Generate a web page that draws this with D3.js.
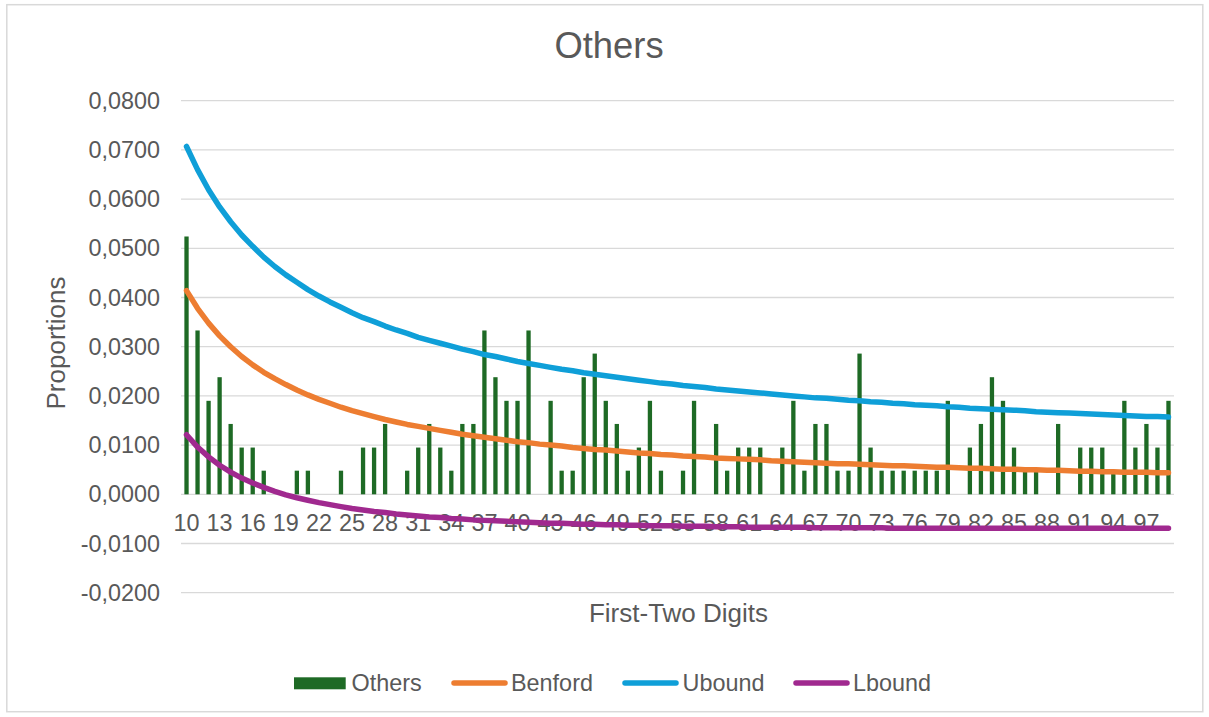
<!DOCTYPE html>
<html>
<head>
<meta charset="utf-8">
<script src="https://cdn.jsdelivr.net/npm/d3@7"></script>
<style>
  html, body { margin: 0; padding: 0; background: #fff; }
  svg { display: block; }
  text { font-family: "Liberation Sans", Arial, Helvetica, sans-serif; fill: #595959; }
</style>
</head>
<body>
<div id="chart"></div>
<script>
// First-two-digit categories
const digits = d3.range(10, 100);

// Observed proportions for the "Others" group (n = 210)
const others = [
  0.0524, 0.0333, 0.0190, 0.0238, 0.0143, 0.0095, 0.0095, 0.0048, 0.0000, 0.0000,
  0.0048, 0.0048, 0.0000, 0.0000, 0.0048, 0.0000, 0.0095, 0.0095, 0.0143, 0.0000,
  0.0048, 0.0095, 0.0143, 0.0095, 0.0048, 0.0143, 0.0143, 0.0333, 0.0238, 0.0190,
  0.0190, 0.0333, 0.0000, 0.0190, 0.0048, 0.0048, 0.0238, 0.0286, 0.0190, 0.0143,
  0.0048, 0.0095, 0.0190, 0.0048, 0.0000, 0.0048, 0.0190, 0.0000, 0.0143, 0.0048,
  0.0095, 0.0095, 0.0095, 0.0000, 0.0095, 0.0190, 0.0048, 0.0143, 0.0143, 0.0048,
  0.0048, 0.0286, 0.0095, 0.0048, 0.0048, 0.0048, 0.0048, 0.0048, 0.0048, 0.0190,
  0.0000, 0.0095, 0.0143, 0.0238, 0.0190, 0.0095, 0.0048, 0.0048, 0.0000, 0.0143,
  0.0000, 0.0095, 0.0095, 0.0095, 0.0048, 0.0190, 0.0095, 0.0143, 0.0095, 0.0190
];

// Expected Benford proportions
const benford = [
  0.0414, 0.0378, 0.0348, 0.0322, 0.0300, 0.0280, 0.0263, 0.0248, 0.0235, 0.0223,
  0.0212, 0.0202, 0.0193, 0.0185, 0.0177, 0.0170, 0.0164, 0.0158, 0.0152, 0.0147,
  0.0142, 0.0138, 0.0134, 0.0130, 0.0126, 0.0122, 0.0119, 0.0116, 0.0113, 0.0110,
  0.0107, 0.0105, 0.0102, 0.0100, 0.0098, 0.0095, 0.0093, 0.0091, 0.0090, 0.0088,
  0.0086, 0.0084, 0.0083, 0.0081, 0.0080, 0.0078, 0.0077, 0.0076, 0.0074, 0.0073,
  0.0072, 0.0071, 0.0070, 0.0068, 0.0067, 0.0066, 0.0065, 0.0064, 0.0063, 0.0062,
  0.0062, 0.0061, 0.0060, 0.0059, 0.0058, 0.0058, 0.0057, 0.0056, 0.0055, 0.0055,
  0.0054, 0.0053, 0.0053, 0.0052, 0.0051, 0.0051, 0.0050, 0.0050, 0.0049, 0.0049,
  0.0048, 0.0047, 0.0047, 0.0046, 0.0046, 0.0045, 0.0045, 0.0045, 0.0044, 0.0044
];

// Upper confidence bound
const ubound = [
  0.0707, 0.0660, 0.0619, 0.0584, 0.0554, 0.0527, 0.0504, 0.0482, 0.0463, 0.0446,
  0.0431, 0.0416, 0.0403, 0.0391, 0.0380, 0.0369, 0.0359, 0.0351, 0.0342, 0.0334,
  0.0327, 0.0319, 0.0313, 0.0307, 0.0301, 0.0295, 0.0290, 0.0284, 0.0280, 0.0275,
  0.0270, 0.0266, 0.0262, 0.0258, 0.0254, 0.0251, 0.0247, 0.0244, 0.0241, 0.0238,
  0.0235, 0.0232, 0.0229, 0.0226, 0.0224, 0.0221, 0.0219, 0.0217, 0.0214, 0.0212,
  0.0210, 0.0208, 0.0206, 0.0204, 0.0202, 0.0200, 0.0198, 0.0196, 0.0195, 0.0193,
  0.0191, 0.0190, 0.0188, 0.0187, 0.0185, 0.0184, 0.0182, 0.0181, 0.0180, 0.0178,
  0.0177, 0.0175, 0.0174, 0.0173, 0.0172, 0.0171, 0.0170, 0.0168, 0.0167, 0.0166,
  0.0165, 0.0164, 0.0163, 0.0162, 0.0161, 0.0160, 0.0159, 0.0158, 0.0158, 0.0157
];

// Lower confidence bound
const lbound = [
  0.0121, 0.0096, 0.0076, 0.0059, 0.0045, 0.0033, 0.0023, 0.0014, 0.0006, -0.0001,
  -0.0007, -0.0012, -0.0017, -0.0021, -0.0025, -0.0029, -0.0032, -0.0035, -0.0037, -0.0040,
  -0.0042, -0.0044, -0.0046, -0.0047, -0.0049, -0.0050, -0.0052, -0.0053, -0.0054, -0.0055,
  -0.0056, -0.0057, -0.0058, -0.0059, -0.0059, -0.0060, -0.0061, -0.0061, -0.0062, -0.0062,
  -0.0063, -0.0063, -0.0064, -0.0064, -0.0064, -0.0065, -0.0065, -0.0065, -0.0066, -0.0066,
  -0.0066, -0.0067, -0.0067, -0.0067, -0.0067, -0.0067, -0.0067, -0.0068, -0.0068, -0.0068,
  -0.0068, -0.0068, -0.0068, -0.0068, -0.0069, -0.0069, -0.0069, -0.0069, -0.0069, -0.0069,
  -0.0069, -0.0069, -0.0069, -0.0069, -0.0069, -0.0069, -0.0069, -0.0069, -0.0069, -0.0069,
  -0.0069, -0.0069, -0.0069, -0.0069, -0.0069, -0.0069, -0.0069, -0.0069, -0.0069, -0.0069
];

// Axis tick values
const yTicks = [-0.02, -0.01, 0, 0.01, 0.02, 0.03, 0.04, 0.05, 0.06, 0.07, 0.08];
const xTickLabels = [10, 13, 16, 19, 22, 25, 28, 31, 34, 37, 40, 43, 46, 49, 52, 55, 58, 61, 64, 67, 70, 73, 76, 79, 82, 85, 88, 91, 94, 97];

const W = 1209, H = 717;
const plot = { left: 181, right: 1174, top: 100.7, bottom: 592.7 };

const colors = {
  Others: "#1e6a25",
  Benford: "#ed7d31",
  Ubound: "#0f9fd8",
  Lbound: "#a0298f"
};

const locale = d3.formatLocale({ decimal: ",", thousands: ".", grouping: [3], currency: ["", ""], minus: "-" });
const fmt = locale.format(".4f");

const svg = d3.select("#chart").append("svg")
  .attr("width", W).attr("height", H);

svg.append("rect").attr("width", W).attr("height", H).attr("fill", "#fff");

// Chart area border
svg.append("rect")
  .attr("x", 6.8).attr("y", 4.7)
  .attr("width", 1196).attr("height", 707)
  .attr("fill", "none").attr("stroke", "#d9d9d9").attr("stroke-width", 1.5);

const x = d3.scaleBand().domain(digits).range([plot.left, plot.right]).padding(0);
const y = d3.scaleLinear().domain([-0.02, 0.08]).range([plot.bottom, plot.top]);

// Horizontal gridlines
svg.append("g").selectAll("line").data(yTicks).join("line")
  .attr("x1", plot.left).attr("x2", plot.right)
  .attr("y1", d => y(d)).attr("y2", d => y(d))
  .attr("stroke", "#d9d9d9").attr("stroke-width", 1.3);

// Y axis labels
const yAxis = d3.axisLeft(y).tickValues(yTicks).tickFormat(fmt).tickSize(0).tickPadding(0);
const gy = svg.append("g").attr("transform", `translate(160,0)`).call(yAxis);
gy.select(".domain").remove();
gy.selectAll("text")
  .attr("fill", "#595959")
  .style("font-size", "23.4px")
  .style("font-family", "'Liberation Sans', Arial, sans-serif");

// Bars
const barW = 4.3;
svg.append("g").selectAll("rect").data(digits.map((d, i) => ({ d, v: others[i] })).filter(o => o.v > 0)).join("rect")
  .attr("x", o => x(o.d) + (x.bandwidth() - barW) / 2)
  .attr("width", barW)
  .attr("y", o => y(o.v))
  .attr("height", o => y(0) - y(o.v))
  .attr("fill", colors.Others);

// X axis category labels, placed along the zero line
const xAxis = d3.axisBottom(x).tickValues(xTickLabels).tickSize(0).tickPadding(0);
const gx = svg.append("g").attr("transform", `translate(0,${y(0)})`).call(xAxis);
gx.select(".domain").remove();
gx.selectAll("text")
  .attr("fill", "#595959")
  .attr("dy", null)
  .attr("y", 36.5)
  .style("font-size", "23.4px")
  .style("font-family", "'Liberation Sans', Arial, sans-serif");

// Lines
const line = d3.line()
  .x((v, i) => x(digits[i]) + x.bandwidth() / 2)
  .y(v => y(v));

[["Benford", benford], ["Ubound", ubound], ["Lbound", lbound]].forEach(([name, vals]) => {
  svg.append("path")
    .datum(vals)
    .attr("d", line)
    .attr("fill", "none")
    .attr("stroke", colors[name])
    .attr("stroke-width", 5.5)
    .attr("stroke-linecap", "round")
    .attr("stroke-linejoin", "round");
});

// Title
svg.append("text")
  .attr("x", 609).attr("y", 58)
  .attr("text-anchor", "middle")
  .style("font-size", "36.4px")
  .text("Others");

// Axis titles
svg.append("text")
  .attr("transform", "translate(65,343) rotate(-90)")
  .attr("text-anchor", "middle")
  .style("font-size", "26px")
  .text("Proportions");

svg.append("text")
  .attr("x", 678.5).attr("y", 622)
  .attr("text-anchor", "middle")
  .style("font-size", "26px")
  .text("First-Two Digits");

// Legend
const legY = 683;
const lg = svg.append("g");
lg.append("rect").attr("x", 294).attr("y", 677.3).attr("width", 51.7).attr("height", 12).attr("fill", colors.Others);
lg.append("text").attr("x", 351.5).attr("y", 691).style("font-size", "23.4px").text("Others");

const legLines = [
  { name: "Benford", x1: 454, x2: 505, tx: 511 },
  { name: "Ubound", x1: 625, x2: 676, tx: 682.5 },
  { name: "Lbound", x1: 796, x2: 847, tx: 853 }
];
legLines.forEach(l => {
  lg.append("line")
    .attr("x1", l.x1).attr("x2", l.x2)
    .attr("y1", legY).attr("y2", legY)
    .attr("stroke", colors[l.name]).attr("stroke-width", 5.5)
    .attr("stroke-linecap", "round");
  lg.append("text").attr("x", l.tx).attr("y", 691).style("font-size", "23.4px").text(l.name);
});
</script>
</body>
</html>
